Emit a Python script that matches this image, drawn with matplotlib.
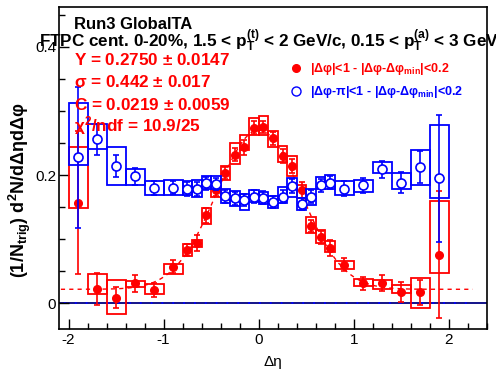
import numpy as np
import matplotlib
matplotlib.use('Agg')
import matplotlib.pyplot as plt
from matplotlib.lines import Line2D
from matplotlib.ticker import MultipleLocator

plt.rcParams['font.family'] = ['Liberation Sans', 'DejaVu Sans']
plt.rcParams['mathtext.fontset'] = 'custom'
plt.rcParams['mathtext.rm'] = 'Liberation Sans:bold'
plt.rcParams['mathtext.it'] = 'Liberation Sans:bold:italic'
plt.rcParams['mathtext.bf'] = 'Liberation Sans:bold'
plt.rcParams['mathtext.default'] = 'rm'
plt.rcParams['axes.unicode_minus'] = False

# bin edges in delta eta (0.2 wide outside, 0.1 wide in the middle)
bin_edges = [-2.0, -1.8, -1.6, -1.4, -1.2, -1.0, -0.8, -0.7, -0.6, -0.5, -0.4, -0.3,
             -0.2, -0.1, 0.0, 0.1, 0.2, 0.3, 0.4, 0.5, 0.6, 0.7, 0.8,
             1.0, 1.2, 1.4, 1.6, 1.8, 2.0]

# near side |dphi|<1
near_y = [0.157, 0.023, 0.009, 0.031, 0.021, 0.057, 0.083, 0.094, 0.137, 0.176,
          0.203, 0.232, 0.243, 0.274, 0.275, 0.257, 0.230, 0.214, 0.177, 0.121,
          0.103, 0.086, 0.060, 0.031, 0.031, 0.018, 0.017, 0.076]
near_err = [0.111, 0.025, 0.017, 0.0135, 0.011, 0.010, 0.0094, 0.012, 0.011, 0.0086,
            0.009, 0.0096, 0.012, 0.010, 0.010, 0.010, 0.011, 0.011, 0.012, 0.009,
            0.010, 0.012, 0.010, 0.010, 0.0125, 0.016, 0.020, 0.099]
near_sys_lo = [0.148, 0.015, -0.017, 0.026, 0.014, 0.046, 0.074, 0.088, 0.123, 0.166,
               0.192, 0.217, 0.239, 0.262, 0.2625, 0.244, 0.221, 0.198, 0.1635, 0.109,
               0.094, 0.080, 0.054, 0.027, 0.023, 0.016, -0.008, 0.048]
near_sys_hi = [0.243, 0.045, 0.037, 0.035, 0.030, 0.062, 0.093, 0.0995, 0.148, 0.185,
               0.214, 0.2495, 0.2625, 0.289, 0.292, 0.269, 0.246, 0.229, 0.184, 0.134,
               0.115, 0.097, 0.066, 0.0385, 0.037, 0.029, 0.040, 0.159]

# away side |dphi-pi|<1
away_y = [0.228, 0.256, 0.2146, 0.198, 0.180, 0.180, 0.178, 0.178, 0.187, 0.186,
          0.167, 0.1635, 0.161, 0.166, 0.165, 0.158, 0.166, 0.183, 0.155, 0.166,
          0.184, 0.188, 0.179, 0.184, 0.209, 0.188, 0.2125, 0.195]
away_err = [0.110, 0.024, 0.017, 0.0135, 0.0115, 0.010, 0.0107, 0.011, 0.0104, 0.010,
            0.010, 0.010, 0.010, 0.010, 0.010, 0.010, 0.010, 0.011, 0.010, 0.010,
            0.010, 0.010, 0.011, 0.0115, 0.013, 0.0167, 0.025, 0.099]
away_sys_lo = [0.215, 0.240, 0.184, 0.184, 0.169, 0.169, 0.169, 0.166, 0.179, 0.178,
               0.156, 0.152, 0.146, 0.158, 0.155, 0.148, 0.156, 0.166, 0.146, 0.153,
               0.178, 0.178, 0.169, 0.173, 0.203, 0.179, 0.185, 0.165]
away_sys_hi = [0.313, 0.280, 0.243, 0.209, 0.1906, 0.192, 0.1906, 0.192, 0.198, 0.198,
               0.179, 0.1755, 0.171, 0.177, 0.174, 0.167, 0.181, 0.196, 0.165, 0.179,
               0.197, 0.200, 0.190, 0.193, 0.221, 0.2025, 0.2385, 0.278]

# gaussian + constant fit to the near side
fit_Y = 0.2750
fit_sigma = 0.442
fit_C = 0.0219

edges = np.array(bin_edges)
centers = 0.5 * (edges[1:] + edges[:-1])
widths = np.diff(edges)

RED = '#ff0000'
BLUE = '#0000ff'

fig = plt.figure(figsize=(4.96, 3.74), dpi=100)
ax = fig.add_axes([59 / 496, 1 - 329 / 374, 428 / 496, 322 / 374])

ax.axhline(0, color='#00007f', lw=1.3, zorder=1)
ax.plot([-2.05, 2.25], [0.001, 0.001], color=BLUE, lw=1.3, ls=(0, (1, 5)), zorder=1)

# fit curve
xf = np.linspace(-2.08, 2.25, 400)
yf = fit_C + fit_Y / (np.sqrt(2 * np.pi) * fit_sigma) * np.exp(-xf ** 2 / (2 * fit_sigma ** 2))
ax.plot(xf, yf, color=RED, lw=1.0, ls=(0, (3, 3)), zorder=2)

# systematic boxes
nlo, nhi = np.array(near_sys_lo), np.array(near_sys_hi)
alo, ahi = np.array(away_sys_lo), np.array(away_sys_hi)
ax.bar(centers, nhi - nlo, widths, bottom=nlo, fill=False, edgecolor=RED, lw=1.3, zorder=3)
ax.errorbar(centers, near_y, yerr=near_err, fmt='o', color=RED, ms=5.5, capsize=2.5,
            elinewidth=1.2, capthick=1.2, zorder=4)
ax.bar(centers, ahi - alo, widths, bottom=alo, fill=False, edgecolor=BLUE, lw=1.3, zorder=5)
ax.errorbar(centers, away_y, yerr=away_err, fmt='o', color=BLUE, mfc='white', mew=1.2,
            ms=6.5, capsize=2.5, elinewidth=1.2, capthick=1.2, zorder=6)

ax.set_xlim(-2.1, 2.4)
ax.set_ylim(-0.04, 0.462)
ax.xaxis.set_major_locator(MultipleLocator(1))
ax.xaxis.set_minor_locator(MultipleLocator(0.2))
ax.yaxis.set_major_locator(MultipleLocator(0.2))
ax.yaxis.set_minor_locator(MultipleLocator(0.05))
ax.tick_params(which='both', direction='in', top=False, right=False, labelsize=11, width=1)
ax.tick_params(which='major', length=7)
ax.tick_params(which='minor', length=4)
ax.tick_params(axis='y', pad=2)
ax.tick_params(axis='x', pad=3)
ax.set_yticks([0, 0.2, 0.4])
ax.set_yticklabels(['0', '0.2', '0.4'])
for s in ax.spines.values():
    s.set_linewidth(1.2)

ax.set_xlabel('Δη', fontsize=11)
ax.xaxis.set_label_coords(0.5, -0.08)
ax.set_ylabel(r'(1/N$_{trig}$) d$^{2}$N/dΔηdΔφ', fontsize=13, fontweight='bold')
ax.yaxis.set_label_coords(-0.06, 0.43)

def ftext(px, py, s, **kw):
    fig.text(px / 496, 1 - py / 374, s, **kw)

ftext(74, 29, 'Run3 GlobalTA', fontsize=12, fontweight='bold', va='baseline')
ftext(39, 47, r'FTPC cent. 0-20%, 1.5 < p$_{T}^{(t)}$ < 2 GeV/c, 0.15 < p$_{T}^{(a)}$ < 3 GeV/c',
      fontsize=12.3, fontweight='bold', va='baseline')
ftext(74, 65, 'Y = %.4f $\\pm$ 0.0147' % fit_Y, fontsize=12.3, fontweight='bold', color=RED, va='baseline')
ftext(74, 87, 'σ = %.3f $\\pm$ 0.017' % fit_sigma, fontsize=12.3, fontweight='bold', color=RED, va='baseline')
ftext(74, 110, 'C = %.4f $\\pm$ 0.0059' % fit_C, fontsize=12.3, fontweight='bold', color=RED, va='baseline')
ftext(74, 131, r'χ$^{2}$/ndf = 10.9/25', fontsize=12.3, fontweight='bold', color=RED, va='baseline')

handles = [Line2D([], [], marker='o', ls='none', color=RED, ms=5.5),
           Line2D([], [], marker='o', ls='none', color=BLUE, mfc='white', ms=6.5, mew=1.0)]
labels = [r'|Δφ|<1 - |Δφ-Δφ$_{min}$|<0.2', r'|Δφ-π|<1 - |Δφ-Δφ$_{min}$|<0.2']
ax.legend(handles, labels, loc='upper left', bbox_to_anchor=(291 / 496, 1 - 61 / 374),
          bbox_transform=fig.transFigure, frameon=False, labelcolor=[RED, BLUE],
          prop={'weight': 'bold', 'size': 9}, handlelength=0.8, handletextpad=0.7,
          labelspacing=0.6, borderpad=0, borderaxespad=0)

fig.savefig('out.png', dpi=100)
